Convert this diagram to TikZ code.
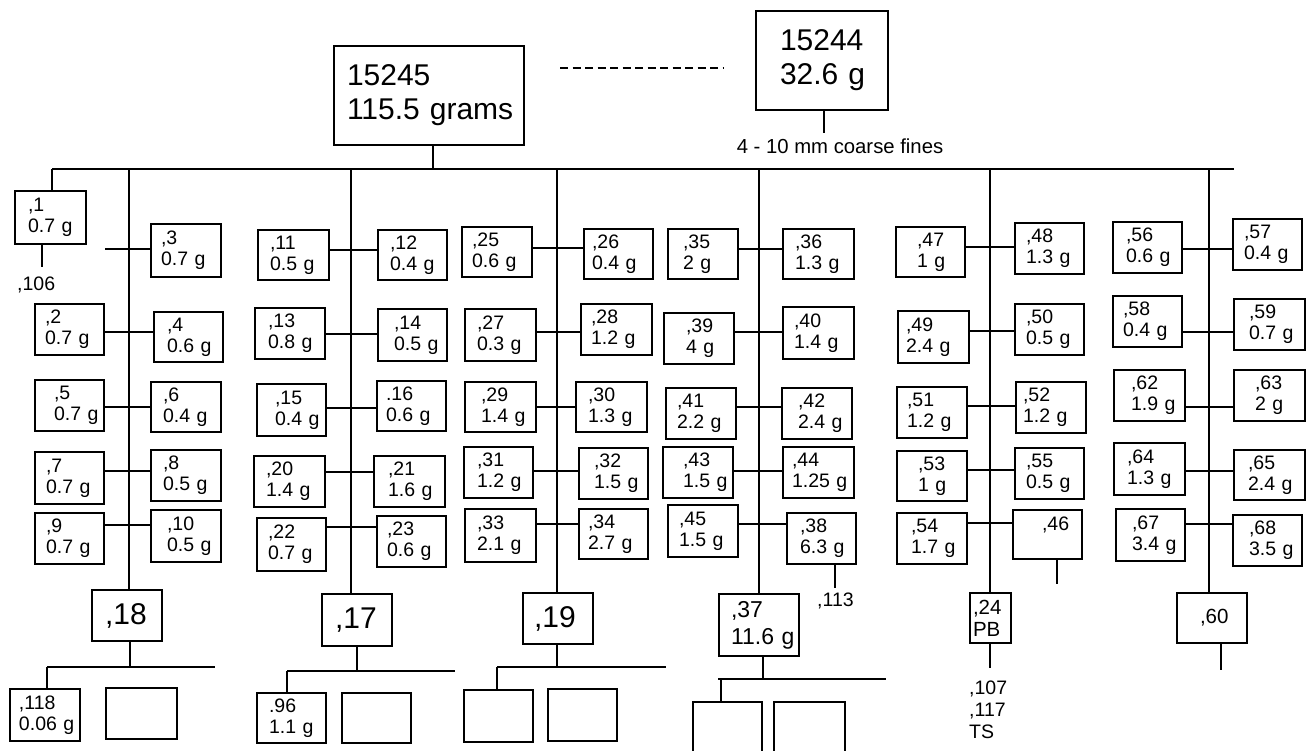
\documentclass[tikz,border=0pt]{standalone}
\usepackage{fontspec}
\setmainfont{Liberation Sans}
\tikzset{
  bx/.style={draw, line width=1.1pt, inner ysep=0pt, align=left, font=\fontsize{19.5}{21}\selectfont},
  big/.style={font=\fontsize{30}{34}\selectfont},
  mid/.style={font=\fontsize{23}{27}\selectfont},
  med/.style={font=\fontsize{20.5}{22}\selectfont},
  ln/.style={line width=1.1pt},
  lbl/.style={inner sep=0pt, align=left, font=\fontsize{19.5}{22}\selectfont},
}
\newcommand\bx[8][]{%
  \pgfmathsetmacro\bxw{#5-#3}%
  \pgfmathsetmacro\bxh{#6-#4}%
  \pgfmathsetmacro\bxt{#5-#3-2*#7}%
  \pgfmathsetmacro\bxcx{(#3+#5)/2}%
  \pgfmathsetmacro\bxcy{(#4+#6)/2}%
  \node[bx,#1,minimum width=\bxw pt,minimum height=\bxh pt,text width=\bxt pt,inner xsep=#7pt] (#2) at (\bxcx,\bxcy) {#8};}
\begin{document}
\begin{tikzpicture}[x=1pt,y=-1pt]
\useasboundingbox (0,0) rectangle (1312,751);
% top
\bx[big]{n15245}{334}{46}{524}{145}{13}{15245\\115.5~grams}
\bx[big]{n15244}{756}{11}{888}{110}{24}{15244\\32.6~g}
\coordinate (d1) at (560,68);
\coordinate (d2) at (724,68);
\draw[ln, dash pattern=on 8pt off 4.5pt] (d1) -- (d2);
\coordinate (s15244) at (824,133);
\draw[ln] (n15244.south -| s15244) -- (s15244);
\node[lbl, font=\fontsize{20.3}{22}\selectfont] (tfines) at (840,146) {4 - 10 mm coarse fines};
% main bus
\coordinate (bl) at (52,169);
\coordinate (br) at (1234,169);
\coordinate (bm) at (433,169);
\coordinate (c1) at (129,169);
\coordinate (c2) at (351,169);
\coordinate (c3) at (557,169);
\coordinate (c4) at (759,169);
\coordinate (c5) at (990,169);
\coordinate (c6) at (1209,169);
\draw[ln] (bl) -- (br);
\draw[ln] (n15245.south -| bm) -- (bm);
% column 1
\bx{n1}{15}{191}{86}{244}{13}{,1\\0.7~g}
\bx{n3}{151}{224}{221}{277}{10}{,3\\0.7~g}
\bx{n2}{35}{304}{104}{355}{10}{,2\\0.7~g}
\bx{n4}{154}{312}{223}{362}{13}{,4\\0.6~g}
\bx{n5}{35}{380}{104}{431}{19}{,5\\0.7~g}
\bx{n6}{151}{382}{221}{432}{12}{,6\\0.4~g}
\bx{n7}{35}{452}{104}{504}{11}{,7\\0.7~g}
\bx{n8}{151}{450}{221}{501}{12}{,8\\0.5~g}
\bx{n9}{35}{513}{104}{564}{11}{,9\\0.7~g}
\bx{n10}{151}{510}{221}{562}{16}{,10\\0.5~g}
\draw[ln] (bl) -- (n1.north -| bl);
\coordinate (s106) at (42,267);
\draw[ln] (n1.south -| s106) -- (s106);
\node[lbl, anchor=west] (t106) at (17,285) {,106};
\coordinate (f3) at (105,249);
\draw[ln] (f3) -- (n3.west |- f3);
\draw[ln] (n2.east |- 0,332) -- (n4.west |- 0,332);
\draw[ln] (n5.east |- 0,407) -- (n6.west |- 0,407);
\draw[ln] (n7.east |- 0,471) -- (n8.west |- 0,471);
\draw[ln] (n9.east |- 0,525) -- (n10.west |- 0,525);
% column 2
\bx{n11}{258}{230}{329}{280}{12}{,11\\0.5~g}
\bx{n12}{378}{230}{447}{280}{12}{,12\\0.4~g}
\bx{n13}{255}{308}{325}{359}{13}{,13\\0.8~g}
\bx{n14}{378}{309}{447}{361}{16}{,14\\0.5~g}
\bx{n15}{257}{384}{326}{436}{18}{,15\\0.4~g}
\bx{n16}{377}{381}{446}{431}{9}{.16\\0.6~g}
\bx{n20}{254}{456}{325}{507}{12}{,20\\1.4~g}
\bx{n21}{374}{456}{445}{507}{14}{,21\\1.6~g}
\bx{n22}{257}{518}{326}{571}{11}{,22\\0.7~g}
\bx{n23}{377}{516}{446}{567}{10}{,23\\0.6~g}
\draw[ln] (n11.east |- 0,250) -- (n12.west |- 0,250);
\draw[ln] (n13.east |- 0,334) -- (n14.west |- 0,334);
\draw[ln] (n15.east |- 0,408) -- (n16.west |- 0,408);
\draw[ln] (n20.east |- 0,472) -- (n21.west |- 0,472);
\draw[ln] (n22.east |- 0,527) -- (n23.west |- 0,527);
% column 3
\bx{n25}{462}{227}{532}{277}{10}{,25\\0.6~g}
\bx{n26}{584}{229}{653}{279}{8}{,26\\0.4~g}
\bx{n27}{465}{309}{536}{361}{12}{,27\\0.3~g}
\bx{n28}{581}{304}{652}{355}{10}{,28\\1.2~g}
\bx{n29}{465}{382}{536}{432}{16}{,29\\1.4~g}
\bx{n30}{576}{382}{647}{432}{12}{,30\\1.3~g}
\bx{n31}{464}{447}{533}{498}{13}{,31\\1.2~g}
\bx{n32}{579}{448}{648}{499}{15}{,32\\1.5~g}
\bx{n33}{465}{509}{536}{562}{12}{,33\\2.1~g}
\bx{n34}{579}{509}{648}{559}{9}{,34\\2.7~g}
\draw[ln] (n25.east |- 0,248) -- (n26.west |- 0,248);
\draw[ln] (n27.east |- 0,332) -- (n28.west |- 0,332);
\draw[ln] (n29.east |- 0,407) -- (n30.west |- 0,407);
\draw[ln] (n31.east |- 0,471) -- (n32.west |- 0,471);
\draw[ln] (n33.east |- 0,524) -- (n34.west |- 0,524);
% column 4
\bx{n35}{668}{229}{738}{279}{15}{,35\\2~g}
\bx{n36}{783}{229}{854}{279}{12}{,36\\1.3~g}
\bx{n39}{664}{313}{734}{364}{22}{,39\\4~g}
\bx{n40}{783}{307}{854}{359}{11}{,40\\1.4~g}
\bx{n41}{666}{388}{736}{439}{11}{,41\\2.2~g}
\bx{n42}{782}{388}{852}{439}{16}{,42\\2.4~g}
\bx{n43}{663}{447}{733}{498}{20}{,43\\1.5~g}
\bx{n44}{783}{447}{854}{498}{9}{,44\\1.25~g}
\bx{n45}{668}{505}{738}{557}{11}{,45\\1.5~g}
\bx{n38}{787}{513}{856}{564}{13}{,38\\6.3~g}
\draw[ln] (n35.east |- 0,249) -- (n36.west |- 0,249);
\draw[ln] (n39.east |- 0,332) -- (n40.west |- 0,332);
\draw[ln] (n41.east |- 0,407) -- (n42.west |- 0,407);
\draw[ln] (n43.east |- 0,471) -- (n44.west |- 0,471);
\draw[ln] (n45.east |- 0,524) -- (n38.west |- 0,524);
\coordinate (s113) at (835,588);
\draw[ln] (n38.south -| s113) -- (s113);
\node[lbl, anchor=west] (t113) at (817,601) {,113};
% column 5
\bx{n47}{896}{227}{965}{277}{21}{,47\\1~g}
\bx{n48}{1015}{223}{1084}{274}{11}{,48\\1.3~g}
\bx{n49}{898}{311}{969}{363}{8}{,49\\2.4~g}
\bx{n50}{1015}{304}{1084}{355}{11}{,50\\0.5~g}
\bx{n51}{897}{387}{967}{438}{10}{,51\\1.2~g}
\bx{n52}{1016}{382}{1086}{433}{7}{,52\\1.2~g}
\bx{n53}{897}{451}{967}{501}{21}{,53\\1~g}
\bx{n55}{1015}{448}{1084}{499}{11}{,55\\0.5~g}
\bx{n54}{897}{513}{967}{564}{14}{,54\\1.7~g}
\bx{n46}{1013}{510}{1082}{559}{29}{,46\\\mbox{}}
\draw[ln] (n47.east |- 0,247) -- (n48.west |- 0,247);
\draw[ln] (n49.east |- 0,331) -- (n50.west |- 0,331);
\draw[ln] (n51.east |- 0,406) -- (n52.west |- 0,406);
\draw[ln] (n53.east |- 0,470) -- (n55.west |- 0,470);
\draw[ln] (n54.east |- 0,523) -- (n46.west |- 0,523);
\coordinate (s46) at (1057,584);
\draw[ln] (n46.south -| s46) -- (s46);
% column 6
\bx{n56}{1113}{222}{1182}{273}{13}{,56\\0.6~g}
\bx{n57}{1233}{219}{1302}{270}{11}{,57\\0.4~g}
\bx{n58}{1113}{296}{1182}{347}{10}{,58\\0.4~g}
\bx{n59}{1234}{299}{1305}{350}{15}{,59\\0.7~g}
\bx{n62}{1114}{370}{1185}{421}{17}{,62\\1.9~g}
\bx{n63}{1234}{370}{1305}{421}{21}{,63\\2~g}
\bx{n64}{1114}{443}{1185}{495}{13}{,64\\1.3~g}
\bx{n65}{1234}{450}{1305}{500}{14}{,65\\2.4~g}
\bx{n67}{1116}{509}{1185}{561}{16}{,67\\3.4~g}
\bx{n68}{1233}{515}{1302}{566}{16}{,68\\3.5~g}
\draw[ln] (n56.east |- 0,249) -- (n57.west |- 0,249);
\draw[ln] (n58.east |- 0,332) -- (n59.west |- 0,332);
\draw[ln] (n62.east |- 0,407) -- (n63.west |- 0,407);
\draw[ln] (n64.east |- 0,471) -- (n65.west |- 0,471);
\draw[ln] (n67.east |- 0,524) -- (n68.west |- 0,524);
% bottom level
\bx[big]{n18}{92}{590}{162}{641}{13}{,18}
\bx[big]{n17}{322}{594}{392}{646}{13}{,17}
\bx[big]{n19}{523}{593}{593}{644}{11}{,19}
\bx[mid]{n37}{719}{594}{799}{656}{12}{,37\\11.6~g}
\bx[med]{n24}{970}{593}{1011}{643}{3}{,24\\PB}
\bx[med]{n60}{1177}{593}{1247}{643}{23}{,60}
\draw[ln] (c1) -- (n18.north -| c1);
\draw[ln] (c2) -- (n17.north -| c2);
\draw[ln] (c3) -- (n19.north -| c3);
\draw[ln] (c4) -- (n37.north -| c4);
\draw[ln] (c5) -- (n24.north -| c5);
\draw[ln] (c6) -- (n60.north -| c6);
\coordinate (s24) at (990,668);
\draw[ln] (n24.south -| s24) -- (s24);
\node[lbl, anchor=north west] (t107) at (969,681) {,107\\,117\\TS};
\coordinate (s60) at (1221,670);
\draw[ln] (n60.south -| s60) -- (s60);
% sub-trees
\bx{n118}{10}{689}{80}{741}{9}{,118\\0.06~g}
\bx{e1}{106}{688}{177}{739}{5}{}
\bx{n96}{257}{693}{326}{743}{12}{.96\\1.1~g}
\bx{e2}{342}{693}{411}{743}{5}{}
\bx{e3}{464}{690}{533}{742}{5}{}
\bx{e4}{548}{689}{617}{741}{5}{}
\bx{e5}{693}{702}{762}{772}{5}{}
\bx{e6}{774}{702}{845}{772}{5}{}
\coordinate (g1l) at (47,667); \coordinate (g1m) at (130,667); \coordinate (g1r) at (215,667);
\draw[ln] (n18.south -| g1m) -- (g1m);
\draw[ln] (g1l) -- (g1r);
\draw[ln] (g1l) -- (n118.north -| g1l);
\coordinate (g2l) at (287,671); \coordinate (g2m) at (357,671); \coordinate (g2r) at (455,671);
\draw[ln] (n17.south -| g2m) -- (g2m);
\draw[ln] (g2l) -- (g2r);
\draw[ln] (g2l) -- (n96.north -| g2l);
\coordinate (g3l) at (497,667); \coordinate (g3m) at (557,667); \coordinate (g3r) at (666,667);
\draw[ln] (n19.south -| g3m) -- (g3m);
\draw[ln] (g3l) -- (g3r);
\draw[ln] (g3l) -- (e3.north -| g3l);
\coordinate (g4l) at (718,679); \coordinate (g4d) at (721,679); \coordinate (g4m) at (763,679); \coordinate (g4r) at (886,679);
\draw[ln] (n37.south -| g4m) -- (g4m);
\draw[ln] (g4l) -- (g4r);
\draw[ln] (g4d) -- (e5.north -| g4d);
\end{tikzpicture}
\end{document}
